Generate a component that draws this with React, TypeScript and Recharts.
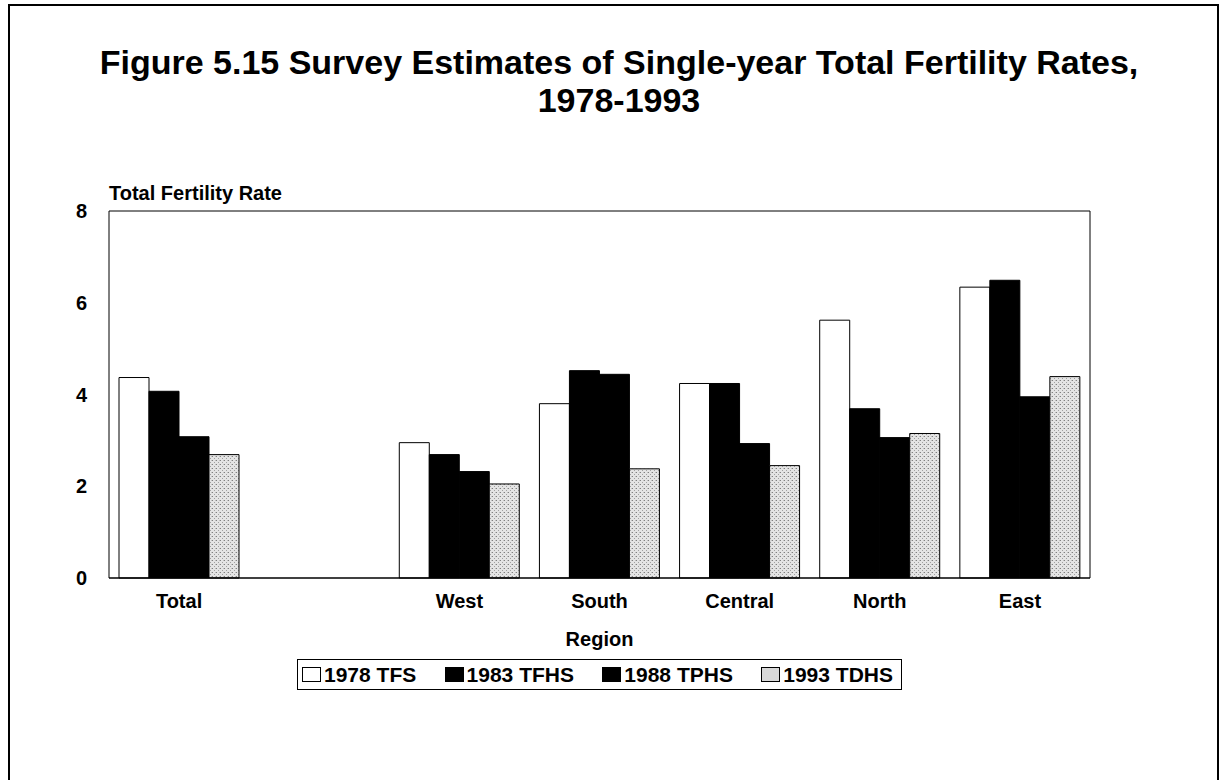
import React from 'react';
import { BarChart, Bar, XAxis, YAxis, Label } from 'recharts';

// regions; the blank entry keeps the gap between Total and the regions
const categories = ['Total', ' ', 'West', 'South', 'Central', 'North', 'East'];
const tfs1978 = [4.37, null, 2.95, 3.8, 4.24, 5.62, 6.34];
const tfhs1983 = [4.07, null, 2.69, 4.52, 4.24, 3.69, 6.49];
const tphs1988 = [3.08, null, 2.32, 4.44, 2.93, 3.06, 3.95];
const tdhs1993 = [2.69, null, 2.05, 2.38, 2.45, 3.15, 4.39];

const seriesKeys = ['tfs1978', 'tfhs1983', 'tphs1988', 'tdhs1993'];
const seriesNames = ['1978 TFS', '1983 TFHS', '1988 TPHS', '1993 TDHS'];
const seriesFills = ['#ffffff', '#000000', '#000000', 'url(#stipple)'];
const yTicks = [0, 2, 4, 6, 8];

const FONT = '"Liberation Sans", Arial, Helvetica, sans-serif';
const labelStyle = { fill: '#000', fontSize: 20, fontWeight: 'bold', fontFamily: FONT };

const data = categories.map((name, i) => ({
  name,
  tfs1978: tfs1978[i],
  tfhs1983: tfhs1983[i],
  tphs1988: tphs1988[i],
  tdhs1993: tdhs1993[i],
}));

export default function App() {
  return (
    <div
      style={{
        position: 'absolute',
        left: 0,
        top: 0,
        width: 1225,
        height: 780,
        background: '#fff',
        fontFamily: FONT,
        color: '#000',
        overflow: 'hidden',
      }}
    >
      {/* page frame */}
      <div
        style={{
          position: 'absolute',
          left: 8,
          top: 4,
          width: 1207,
          height: 790,
          borderTop: '2px solid #000',
          borderLeft: '2px solid #000',
          borderRight: '2px solid #000',
        }}
      />

      <div
        style={{
          position: 'absolute',
          left: 0,
          top: 43,
          width: 1238,
          textAlign: 'center',
          fontSize: 34,
          fontWeight: 'bold',
          lineHeight: '38px',
        }}
      >
        Figure 5.15 Survey Estimates of Single-year Total Fertility Rates,
        <br />
        1978-1993
      </div>

      <div
        style={{
          position: 'absolute',
          left: 109,
          top: 181,
          fontSize: 20,
          fontWeight: 'bold',
          lineHeight: '24px',
        }}
      >
        Total Fertility Rate
      </div>

      <div style={{ position: 'absolute', left: 0, top: 0 }}>
        <BarChart
          width={1225}
          height={780}
          data={data}
          margin={{ top: 210, right: 134, bottom: 172, left: 0 }}
          barCategoryGap={10}
          barGap={0}
        >
          <defs>
            <pattern id="stipple" width="4" height="4" patternUnits="userSpaceOnUse">
              <rect width="4" height="4" fill="#e4e4e4" />
              <rect x="0" y="0" width="1" height="1" fill="#808080" />
              <rect x="2" y="2" width="1" height="1" fill="#a0a0a0" />
              <rect x="3" y="0" width="1" height="1" fill="#c0c0c0" />
            </pattern>
          </defs>
          <XAxis
            dataKey="name"
            height={30}
            tickLine={false}
            tickSize={0}
            tickMargin={16}
            axisLine={{ stroke: '#000', strokeWidth: 1.5 }}
            tick={labelStyle}
          >
            <Label value="Region" position="bottom" offset={24} style={labelStyle} />
          </XAxis>
          <XAxis
            xAxisId="top"
            dataKey="name"
            orientation="top"
            height={1}
            tick={false}
            tickLine={false}
            axisLine={{ stroke: '#000', strokeWidth: 1 }}
          />
          <YAxis
            width={109}
            domain={[0, 8]}
            ticks={yTicks}
            tickLine={false}
            tickSize={0}
            tickMargin={22}
            axisLine={{ stroke: '#000', strokeWidth: 1 }}
            tick={labelStyle}
          />
          <YAxis
            yAxisId="right"
            orientation="right"
            width={1}
            domain={[0, 8]}
            tick={false}
            tickLine={false}
            axisLine={{ stroke: '#000', strokeWidth: 1 }}
          />
          {seriesKeys.map((key, i) => (
            <Bar
              key={key}
              dataKey={key}
              name={seriesNames[i]}
              fill={seriesFills[i]}
              stroke="#000"
              strokeWidth={1}
              isAnimationActive={false}
            />
          ))}
        </BarChart>
      </div>

      {/* legend */}
      <div
        style={{
          position: 'absolute',
          left: 297,
          top: 659,
          width: 605,
          height: 31,
          boxSizing: 'border-box',
          border: '1.5px solid #000',
          display: 'flex',
          alignItems: 'center',
          justifyContent: 'space-between',
          padding: '0 8px 0 4px',
          fontSize: 21,
          fontWeight: 'bold',
        }}
      >
        {seriesNames.map((name, i) => (
          <div key={name} style={{ display: 'flex', alignItems: 'center' }}>
            <span
              style={{
                display: 'inline-block',
                width: 19,
                height: 15,
                boxSizing: 'border-box',
                border: '1px solid #000',
                background: i === 3 ? '#d8d8d8' : seriesFills[i],
                marginRight: 3,
              }}
            />
            <span>{name}</span>
          </div>
        ))}
      </div>
    </div>
  );
}
